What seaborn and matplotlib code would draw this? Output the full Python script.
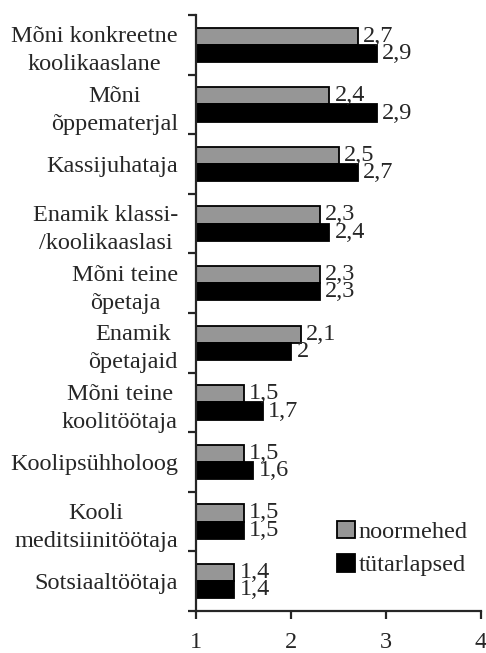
import matplotlib
matplotlib.use('Agg')
import matplotlib.pyplot as plt
import numpy as np
import pandas as pd
import seaborn as sns

categories = ['Mõni konkreetne\nkoolikaaslane', 'Mõni\nõppematerjal', 'Kassijuhataja',
              'Enamik klassi-\n/koolikaaslasi', 'Mõni teine\nõpetaja', 'Enamik\nõpetajaid',
              'Mõni teine\nkoolitöötaja', 'Koolipsühholoog', 'Kooli\nmeditsiinitöötaja',
              'Sotsiaaltöötaja']
noormehed = [2.7, 2.4, 2.5, 2.3, 2.3, 2.1, 1.5, 1.5, 1.5, 1.4]
tutarlapsed = [2.9, 2.9, 2.7, 2.4, 2.3, 2.0, 1.7, 1.6, 1.5, 1.4]
series = ['noormehed', 'tütarlapsed']
x_ticks = [1, 2, 3, 4]

df = pd.DataFrame({
    'Kategooria': categories * 2,
    'Väärtus': noormehed + tutarlapsed,
    'Grupp': [series[0]] * len(categories) + [series[1]] * len(categories),
})

sns.set_style('ticks')
plt.rcParams['font.family'] = ['Liberation Serif', 'DejaVu Serif']
fs = 17.5

fig = plt.figure(figsize=(4.86, 6.53), dpi=100)
ax = fig.add_axes([196 / 486, 1 - 611 / 653, 285 / 486, 596 / 653])

sns.barplot(data=df, y='Kategooria', x='Väärtus', hue='Grupp', orient='h',
            palette=['#969696', '#000000'], edgecolor='black', linewidth=1.3,
            width=0.58, ax=ax, errorbar=None)

for cont, vals in zip(ax.containers, [noormehed, tutarlapsed]):
    labs = [('%g' % v).replace('.', ',') for v in vals]
    ax.bar_label(cont, labels=labs, padding=4, fontsize=fs)

ax.set_xlim(1, 4)
ax.set_ylim(len(categories) - 0.5, -0.5)
ax.set_xticks(x_ticks)
ax.set_xticklabels([str(t) for t in x_ticks])
ax.set_yticks(range(len(categories)))
ax.set_yticklabels(categories, fontsize=fs, multialignment='center', linespacing=1.45)
ax.set_yticks(np.arange(-0.5, len(categories), 1), minor=True)
ax.tick_params(axis='y', which='major', length=0, pad=13)
ax.tick_params(axis='y', which='minor', length=6, width=1.6, direction='out')
ax.tick_params(axis='x', length=6, width=1.6, direction='out', pad=9, labelsize=fs)
ax.set_xlabel('')
ax.set_ylabel('')
sns.despine(ax=ax)
for s in ['left', 'bottom']:
    ax.spines[s].set_linewidth(1.6)

ax.legend(loc='center left', bbox_to_anchor=(0.495, 0.105), frameon=False,
          fontsize=fs, handlelength=0.75, handleheight=0.75, handletextpad=0.15,
          labelspacing=0.45, borderpad=0, borderaxespad=0)

fig.savefig('out.png', dpi=100)
